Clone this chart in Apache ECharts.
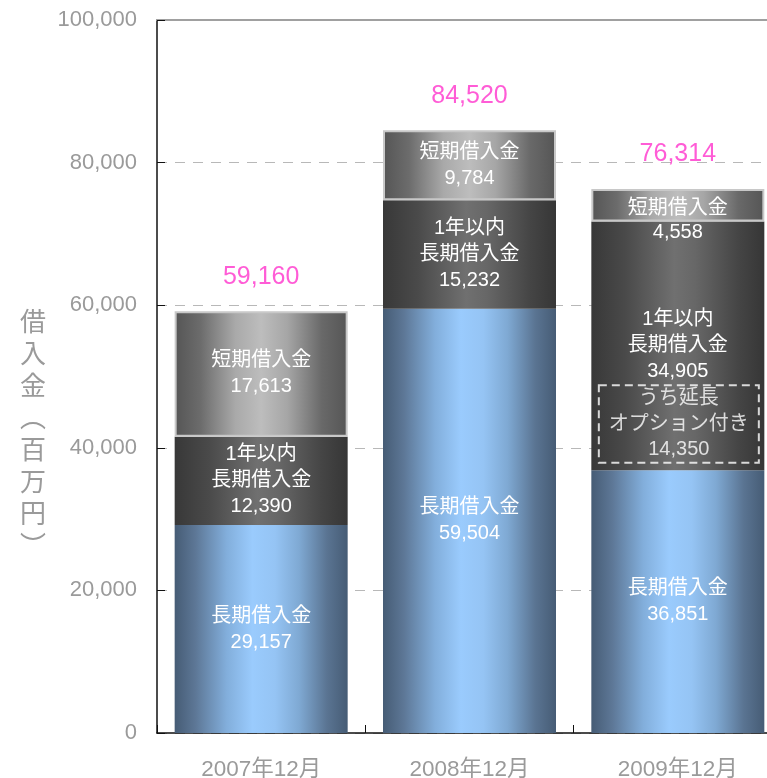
<!DOCTYPE html>
<html>
<head>
<meta charset="utf-8">
<script src="https://cdn.jsdelivr.net/npm/echarts@6/dist/echarts.min.js"></script>
<style>
  html, body { margin: 0; padding: 0; background: #fff; }
  #chart { width: 767px; height: 778px; }
</style>
</head>
<body>
<div id="chart"></div>
<script>
// Borrowings by period (millions of yen)
var categories = ['2007年12月', '2008年12月', '2009年12月'];
var longTerm = [29157, 59504, 36851];          // 長期借入金
var currentLongTerm = [12390, 15232, 34905];   // 1年以内 長期借入金
var shortTerm = [17613, 9784, 4558];           // 短期借入金
var totals = [59160, 84520, 76314];            // 合計
var extensionOption = 14350;                   // うち延長オプション付き (2009年12月)
var extensionIndex = 2;
var yTicks = [0, 20000, 40000, 60000, 80000, 100000];

var FONT = '"Liberation Sans", Arial, "Noto Sans CJK JP", sans-serif';

function fmt(v) {
  return String(v).replace(/\B(?=(\d{3})+(?!\d))/g, ',');
}

function hGrad(stops) {
  return new echarts.graphic.LinearGradient(0, 0, 1, 0, stops.map(function (s) {
    return { offset: s[0], color: s[1] };
  }));
}

var blueFill = hGrad([[0, '#465c75'], [0.12, '#5d7796'], [0.3, '#82aedb'], [0.45, '#9acbfd'],
  [0.58, '#95c4f4'], [0.72, '#7fa9d3'], [0.88, '#5a7492'], [1, '#465c75']]);
var darkFill = hGrad([[0, '#383838'], [0.2, '#4a4a4a'], [0.48, '#707070'], [0.6, '#676767'],
  [0.85, '#454545'], [1, '#363636']]);
var grayFill = hGrad([[0, '#555555'], [0.15, '#6c6c6c'], [0.35, '#a9a9a9'], [0.5, '#bdbdbd'],
  [0.65, '#a6a6a6'], [0.85, '#696969'], [1, '#555555']]);

var labelBase = {
  show: true,
  position: 'inside',
  color: '#ffffff',
  fontFamily: FONT,
  fontSize: 20,
  lineHeight: 26
};

var shortData = shortTerm.map(function (v, i) {
  if (i === extensionIndex) {
    return { value: v, label: { offset: [0, 15], lineHeight: 24 } };
  }
  return v;
});

// the extension-option portion sits at the bottom of the current long-term block
var boxData = categories.map(function (c, i) {
  return i === extensionIndex ? longTerm[i] + extensionOption / 2 : null;
});

var chart = echarts.init(document.getElementById('chart'), null, { renderer: 'canvas' });

chart.setOption({
  animation: false,
  backgroundColor: '#ffffff',
  textStyle: { fontFamily: FONT },
  title: {
    text: '借\n入\n金\n︵\n百\n万\n円\n︶',
    left: 20,
    top: 305,
    padding: 0,
    textStyle: {
      fontFamily: '"Noto Sans CJK JP", sans-serif',
      fontSize: 26,
      lineHeight: 32,
      fontWeight: 'normal',
      color: '#9a9a9a'
    }
  },
  // the plot runs slightly past the right edge of the canvas
  grid: {
    left: 157, right: -15, top: 20, bottom: 45,
    containLabel: false,
    outerBoundsMode: 'none'
  },
  xAxis: [{
    type: 'category',
    data: categories,
    position: 'bottom',
    axisLine: { show: true, lineStyle: { color: '#111', width: 1.5 } },
    axisTick: { show: true, inside: true, length: 8, lineStyle: { color: '#111' } },
    axisLabel: { color: '#9a9a9a', fontSize: 22.5, margin: 26, fontFamily: FONT }
  }, {
    type: 'category',
    data: categories,
    position: 'top',
    axisLine: { show: true, lineStyle: { color: '#a0a0a0', width: 2 } },
    axisTick: { show: false },
    axisLabel: { show: false }
  }],
  yAxis: {
    type: 'value',
    min: yTicks[0],
    max: yTicks[yTicks.length - 1],
    interval: yTicks[1] - yTicks[0],
    axisLine: { show: true, lineStyle: { color: '#111', width: 1.5 } },
    axisTick: { show: true, inside: true, length: 8, lineStyle: { color: '#111' } },
    axisLabel: {
      color: '#9a9a9a', fontSize: 22, margin: 20, fontFamily: FONT,
      formatter: function (v) { return fmt(v); }
    },
    splitLine: { show: true, lineStyle: { color: '#b8b8b8', width: 1, type: [10, 8] } }
  },
  series: [{
    name: '長期借入金',
    type: 'bar',
    stack: 'debt',
    barWidth: 173,
    data: longTerm,
    itemStyle: { color: blueFill },
    label: Object.assign({}, labelBase, {
      formatter: function (p) { return '長期借入金\n' + fmt(p.value); }
    })
  }, {
    name: '1年以内長期借入金',
    type: 'bar',
    stack: 'debt',
    barWidth: 173,
    data: currentLongTerm,
    itemStyle: { color: darkFill },
    label: Object.assign({}, labelBase, {
      formatter: function (p) { return '1年以内\n長期借入金\n' + fmt(p.value); }
    })
  }, {
    name: '短期借入金',
    type: 'bar',
    stack: 'debt',
    barWidth: 173,
    data: shortData,
    itemStyle: { color: grayFill, borderColor: '#c8c8c8', borderWidth: 2 },
    label: Object.assign({}, labelBase, {
      formatter: function (p) { return '短期借入金\n' + fmt(p.value); }
    })
  }, {
    name: '合計',
    type: 'scatter',
    data: totals,
    symbolSize: 0,
    silent: true,
    label: {
      show: true,
      position: 'top',
      distance: 22,
      color: '#ff33cc',
      fontSize: 25,
      fontFamily: FONT,
      formatter: function (p) { return fmt(p.value); }
    },
    z: 10
  }, {
    name: 'うち延長オプション付き',
    type: 'scatter',
    data: boxData,
    symbolSize: 0,
    silent: true,
    label: {
      show: true,
      position: 'inside',
      offset: [1, 5],
      color: '#ffffff',
      fontSize: 20,
      lineHeight: 25.5,
      fontFamily: FONT,
      align: 'center',
      width: 150,
      padding: [1, 5, 0, 5],
      borderColor: '#ffffff',
      borderWidth: 2,
      borderType: [8, 5],
      formatter: function () { return 'うち延長\nオプション付き\n' + fmt(extensionOption); }
    },
    z: 10
  }]
});
</script>
</body>
</html>
